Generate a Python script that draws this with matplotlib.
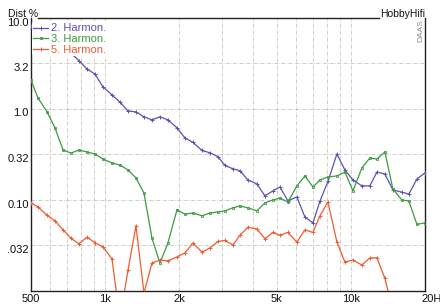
import matplotlib
matplotlib.use("Agg")
import matplotlib.pyplot as plt
import matplotlib.transforms as mtransforms
from matplotlib.ticker import FixedLocator, NullLocator, FixedFormatter

plt.rcParams['font.family'] = ['Liberation Sans', 'DejaVu Sans']

# Frequencies of the measured points (Hz)
freq = [500, 534, 581, 626, 675, 727, 783, 845, 910, 981,
        1067, 1150, 1240, 1336, 1440, 1552, 1672, 1802, 1961, 2114,
        2278, 2479, 2671, 2879, 3073, 3312, 3536, 3811, 4146, 4469,
        4816, 5141, 5540, 6029, 6497, 7003, 7479, 8059, 8766, 9448,
        10184, 11078, 11939, 12751, 13741, 14808, 16110, 17200, 18535, 19985]

# distortion in %
h2 = [8.2, 5.9, 5.3, 4.8, 4.45, 4.1, 3.4, 2.75, 2.42, 1.75,
      1.43, 1.19, 0.95, 0.93, 0.82, 0.76, 0.82, 0.76, 0.62, 0.48,
      0.43, 0.35, 0.33, 0.30, 0.24, 0.22, 0.21, 0.166, 0.150, 0.111,
      0.126, 0.139, 0.098, 0.108, 0.065, 0.056, 0.097, 0.16, 0.32, 0.214,
      0.166, 0.143, 0.143, 0.203, 0.193, 0.129, 0.122, 0.116, 0.170, 0.198]
h3 = [2.08, 1.32, 0.93, 0.62, 0.354, 0.328, 0.354, 0.337, 0.320, 0.282,
      0.255, 0.242, 0.214, 0.175, 0.119, 0.038, 0.0203, 0.0337, 0.078, 0.070,
      0.072, 0.067, 0.072, 0.074, 0.076, 0.082, 0.086, 0.082, 0.076, 0.093,
      0.100, 0.105, 0.095, 0.143, 0.184, 0.139, 0.166, 0.179, 0.184, 0.203,
      0.126, 0.225, 0.290, 0.282, 0.337, 0.132, 0.100, 0.0975, 0.054, 0.056]
h5 = [0.093, 0.084, 0.068, 0.059, 0.047, 0.038, 0.033, 0.039, 0.034, 0.0305,
      0.0225, 0.005, 0.017, 0.052, 0.0095, 0.0203, 0.0219, 0.0214, 0.0237, 0.0262,
      0.0337, 0.0268, 0.0297, 0.035, 0.036, 0.032, 0.041, 0.050, 0.048, 0.0375,
      0.044, 0.041, 0.044, 0.0345, 0.047, 0.044, 0.067, 0.095, 0.0345, 0.0208,
      0.0219, 0.0193, 0.0231, 0.0231, 0.0138, 0.006]

x_ticks = [500, 1000, 2000, 5000, 10000, 20000]
x_labels = ['500', '1k', '2k', '5k', '10k', '20H']
y_ticks = [10.0, 3.2, 1.0, 0.32, 0.10, 0.032]
y_labels = ['10.0', '3.2', '1.0', '0.32', '0.10', '.032']
x_grid = [600, 700, 800, 900, 1000, 2000, 3000, 4000, 5000, 6000, 7000, 8000, 9000, 10000]
y_grid = [3.2, 1.0, 0.32, 0.10, 0.032]

BLUE = '#5a52b4'
GREEN = '#3c9c40'
RED = '#f25a30'

fig = plt.figure(figsize=(4.4, 3.04), dpi=100)
ax = fig.add_axes([31 / 440, 13 / 304, 394 / 440, 273 / 304])
ax.set_xscale('log')
ax.set_yscale('log')
ax.set_xlim(500, 20000)
ax.set_ylim(0.01, 10)

for g in x_grid:
    ax.axvline(g, color='#bdb6ae', lw=0.5, ls=(0, (5, 2, 1, 2)), zorder=1)
for g in y_grid:
    ax.axhline(g, color='#bdb6ae', lw=0.5, ls=(0, (5, 2, 1, 2)), zorder=1)

ax.plot(freq, h2, color=BLUE, lw=0.9, marker='+', ms=2.6, mew=0.7, label='2. Harmon.', zorder=3)
ax.plot(freq, h3, color=GREEN, lw=0.9, marker='s', ms=2.0, mfc='none', mew=0.6, label='3. Harmon.', zorder=3)
ax.plot(freq[:len(h5)], h5, color=RED, lw=0.9, marker='+', ms=2.6, mew=0.7, label='5. Harmon.', zorder=3)

ax.xaxis.set_major_locator(FixedLocator(x_ticks))
ax.xaxis.set_major_formatter(FixedFormatter(x_labels))
ax.xaxis.set_minor_locator(NullLocator())
ax.yaxis.set_major_locator(FixedLocator(y_ticks))
ax.yaxis.set_major_formatter(FixedFormatter(y_labels))
ax.yaxis.set_minor_locator(NullLocator())
ax.tick_params(length=0, labelsize=8, colors='#111111', pad=2)
ax.tick_params(axis='y', pad=1.5)

# y labels sit a little below their grid lines, last x label is cut at the edge
down = mtransforms.ScaledTranslation(0, -3.5 / 100, fig.dpi_scale_trans)
for lab in ax.get_yticklabels():
    lab.set_transform(lab.get_transform() + down)
last = ax.get_xticklabels()[-1]
last.set_horizontalalignment('left')
last.set_transform(last.get_transform()
                   + mtransforms.ScaledTranslation(-4 / 100, 0, fig.dpi_scale_trans))

for side in ['left', 'bottom', 'right']:
    ax.spines[side].set_color('#222222')
    ax.spines[side].set_linewidth(1.0)
ax.spines['top'].set_visible(False)
ax.plot([7 / 394, 348 / 394], [1, 1], transform=ax.transAxes, color='#222222',
        lw=1.0, clip_on=False, zorder=4)

fig.text(8 / 440, 1 - 17 / 304, 'Dist %', fontsize=7.5, color='#111111', va='baseline')
fig.text(425 / 440, 1 - 17 / 304, 'HobbyHifi', fontsize=7.5, color='#111111',
         ha='right', va='baseline')
fig.text(421 / 440, 1 - 19 / 304, 'DAAS', fontsize=6, color='#8a8a8a',
         rotation=90, ha='center', va='top')

leg = ax.legend(loc='upper left', bbox_to_anchor=(0.003, 0.984), frameon=True,
                facecolor='white', edgecolor='none', framealpha=1, fontsize=8,
                handlelength=1.3, handletextpad=0.3, labelspacing=0.05,
                borderpad=0.1, borderaxespad=0, labelcolor='linecolor')
leg.set_zorder(5)

fig.savefig('out.png', dpi=100)
